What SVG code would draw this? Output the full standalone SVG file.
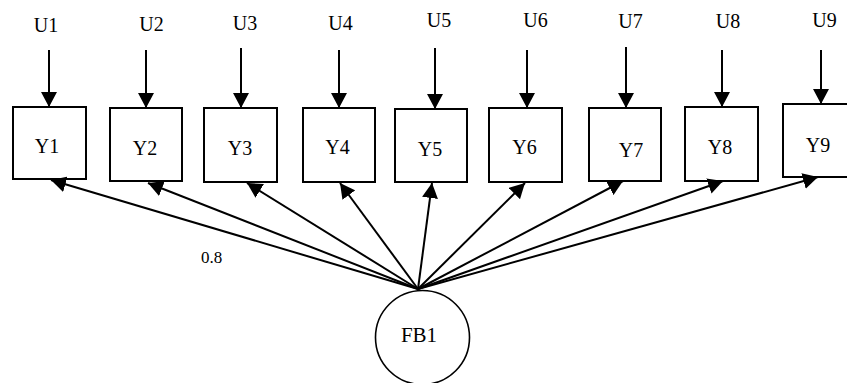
<svg xmlns="http://www.w3.org/2000/svg" width="847" height="383" viewBox="0 0 847 383">
  <style>
    .box { fill: #fff; stroke: #000; stroke-width: 2; }
    .lat { fill: #fff; stroke: #000; stroke-width: 1.6; }
    text { font-family: 'Liberation Serif', 'Times New Roman', 'DejaVu Serif', serif; fill: #000; }
    .lbl { font-size: 20px; text-anchor: middle; }
    .big { font-size: 21px; }
    .coef { font-size: 17px; }
    .edge { stroke: #000; stroke-width: 2; fill: none; marker-end: url(#ah); }
  </style>
  <defs>
    <marker id="ah" markerWidth="15" markerHeight="16" refX="15" refY="8" orient="auto" markerUnits="userSpaceOnUse">
      <path d="M0,0 L15,8 L0,16 z" fill="#000"/>
    </marker>
  </defs>
  <rect width="847" height="383" fill="#fff"/>

  <!-- error terms -->
  <g id="U1"><text class="lbl" x="46" y="32" font-family="Liberation Serif, serif">U1</text></g>
  <g id="U2"><text class="lbl" x="151.5" y="31" font-family="Liberation Serif, serif">U2</text></g>
  <g id="U3"><text class="lbl" x="245" y="30" font-family="Liberation Serif, serif">U3</text></g>
  <g id="U4"><text class="lbl" x="340.5" y="30" font-family="Liberation Serif, serif">U4</text></g>
  <g id="U5"><text class="lbl" x="439" y="27" font-family="Liberation Serif, serif">U5</text></g>
  <g id="U6"><text class="lbl" x="535.5" y="27" font-family="Liberation Serif, serif">U6</text></g>
  <g id="U7"><text class="lbl" x="630.5" y="28" font-family="Liberation Serif, serif">U7</text></g>
  <g id="U8"><text class="lbl" x="728" y="28" font-family="Liberation Serif, serif">U8</text></g>
  <g id="U9"><text class="lbl" x="824.5" y="27" font-family="Liberation Serif, serif">U9</text></g>

  <!-- observed indicators -->
  <g id="Y1"><rect class="box" x="13" y="107" width="73" height="72"/><text class="lbl" x="47" y="153" font-family="Liberation Serif, serif">Y1</text></g>
  <g id="Y2"><rect class="box" x="110" y="108" width="72" height="73"/><text class="lbl" x="145" y="155" font-family="Liberation Serif, serif">Y2</text></g>
  <g id="Y3"><rect class="box" x="204" y="108" width="73" height="74"/><text class="lbl" x="240" y="155" font-family="Liberation Serif, serif">Y3</text></g>
  <g id="Y4"><rect class="box" x="303" y="108" width="72" height="74"/><text class="lbl" x="337.5" y="154" font-family="Liberation Serif, serif">Y4</text></g>
  <g id="Y5"><rect class="box" x="395" y="109" width="72" height="73"/><text class="lbl" x="430" y="156" font-family="Liberation Serif, serif">Y5</text></g>
  <g id="Y6"><rect class="box" x="489" y="108" width="73" height="74"/><text class="lbl" x="524.5" y="154" font-family="Liberation Serif, serif">Y6</text></g>
  <g id="Y7"><rect class="box" x="589" y="108" width="72" height="73"/><text class="lbl" x="631" y="157" font-family="Liberation Serif, serif">Y7</text></g>
  <g id="Y8"><rect class="box" x="685" y="107" width="73" height="74"/><text class="lbl" x="720" y="154" font-family="Liberation Serif, serif">Y8</text></g>
  <g id="Y9"><rect class="box" x="783" y="104" width="73" height="73"/><text class="lbl" x="818" y="152" font-family="Liberation Serif, serif">Y9</text></g>

  <!-- latent factor -->
  <g id="FB1"><circle class="lat" cx="422.5" cy="337.5" r="47"/><text class="lbl big" x="419" y="342" font-family="Liberation Serif, serif">FB1</text></g>

  <g id="connectors">
    <!-- error paths -->
    <line class="edge" x1="49" y1="50" x2="49" y2="107"/>
    <line class="edge" x1="146" y1="50" x2="146" y2="108"/>
    <line class="edge" x1="241" y1="48" x2="241" y2="108"/>
    <line class="edge" x1="339" y1="50" x2="339" y2="108"/>
    <line class="edge" x1="435" y1="48" x2="435" y2="109"/>
    <line class="edge" x1="527" y1="50" x2="527" y2="108"/>
    <line class="edge" x1="626" y1="47" x2="626" y2="108"/>
    <line class="edge" x1="722" y1="50" x2="722" y2="107"/>
    <line class="edge" x1="821" y1="50" x2="821" y2="104"/>
    <!-- loadings -->
    <line class="edge" x1="418" y1="289" x2="51" y2="180"/>
    <line class="edge" x1="418" y1="289" x2="148" y2="183"/>
    <line class="edge" x1="418" y1="289" x2="247" y2="183"/>
    <line class="edge" x1="418" y1="289" x2="340" y2="183"/>
    <line class="edge" x1="418" y1="289" x2="432" y2="183"/>
    <line class="edge" x1="418" y1="289" x2="525" y2="183"/>
    <line class="edge" x1="418" y1="289" x2="623" y2="181"/>
    <line class="edge" x1="418" y1="289" x2="723" y2="181"/>
    <line class="edge" x1="418" y1="289" x2="818" y2="177"/>
    <text class="coef" x="201" y="263" font-family="Liberation Serif, serif">0.8</text>
  </g>
</svg>
